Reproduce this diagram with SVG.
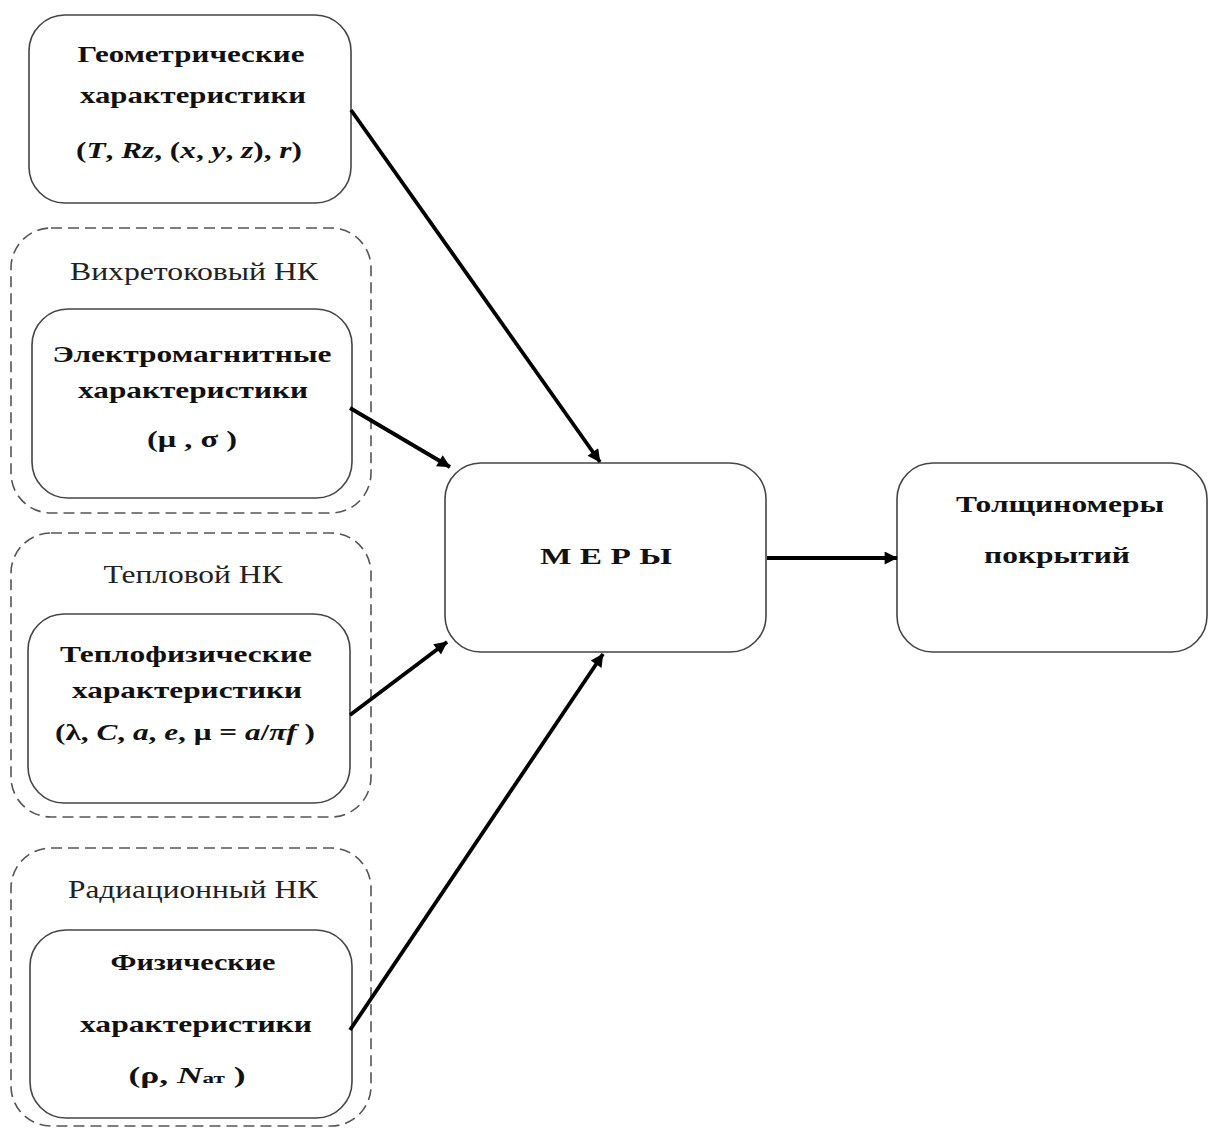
<svg xmlns="http://www.w3.org/2000/svg" width="1209" height="1130" viewBox="0 0 1209 1130">
<style>
.box{fill:#fff;stroke:#444;stroke-width:1.6}
.grp{fill:none;stroke:#555;stroke-width:1.6;stroke-dasharray:11,6}
.b{font-family:"Liberation Serif","Times New Roman",serif;font-weight:bold;font-size:23px;fill:#111;text-anchor:middle}
.l{font-family:"Liberation Serif","Times New Roman",serif;font-size:25px;fill:#222;text-anchor:middle}
.c{stroke:#000;stroke-width:3.8;fill:none;marker-end:url(#ah)}
</style>
<defs>
<marker id="ah" viewBox="0 0 10 10" refX="9.5" refY="5" markerWidth="15" markerHeight="13" markerUnits="userSpaceOnUse" orient="auto">
<path d="M0,0 L10,5 L0,10 Z" fill="#000"/>
</marker>
</defs>
<rect width="1209" height="1130" fill="#fff"/>

<g id="geom">
<rect class="box" x="29" y="15" width="322" height="188" rx="36"/>
<text class="b" x="191" y="62" textLength="227" lengthAdjust="spacingAndGlyphs">Геометрические</text>
<text class="b" x="193" y="103" textLength="226" lengthAdjust="spacingAndGlyphs">характеристики</text>
<text class="b" x="189" y="158" textLength="226" lengthAdjust="spacingAndGlyphs">(<tspan font-style="italic">T</tspan>, <tspan font-style="italic">Rz</tspan>,  (<tspan font-style="italic">x</tspan>, <tspan font-style="italic">y</tspan>, <tspan font-style="italic">z</tspan>), <tspan font-style="italic">r</tspan>)</text>
</g>

<g id="eddy">
<rect class="grp" x="11" y="228" width="360" height="285" rx="40"/>
<text class="l" x="194" y="280" textLength="248" lengthAdjust="spacingAndGlyphs">Вихретоковый НК</text>
<rect class="box" x="32" y="309" width="320" height="189" rx="36"/>
<text class="b" x="192" y="362" textLength="279" lengthAdjust="spacingAndGlyphs">Электромагнитные</text>
<text class="b" x="193" y="398" textLength="230" lengthAdjust="spacingAndGlyphs">характеристики</text>
<text class="b" x="192" y="447" textLength="90" lengthAdjust="spacingAndGlyphs">(μ , σ )</text>
</g>

<g id="thermal">
<rect class="grp" x="11" y="533" width="360" height="284" rx="40"/>
<text class="l" x="193" y="583" textLength="179" lengthAdjust="spacingAndGlyphs">Тепловой НК</text>
<rect class="box" x="28" y="614" width="322" height="189" rx="36"/>
<text class="b" x="186" y="662" textLength="252" lengthAdjust="spacingAndGlyphs">Теплофизические</text>
<text class="b" x="187" y="698" textLength="230" lengthAdjust="spacingAndGlyphs">характеристики</text>
<text class="b" x="185" y="740" textLength="260" lengthAdjust="spacingAndGlyphs">(λ, <tspan font-style="italic">C</tspan>, <tspan font-style="italic">a</tspan>, <tspan font-style="italic">e</tspan>, μ = <tspan font-style="italic">a</tspan>/<tspan font-style="italic">πf</tspan> )</text>
</g>

<g id="radiation">
<rect class="grp" x="11" y="848" width="360" height="278" rx="40"/>
<text class="l" x="193" y="898" textLength="250" lengthAdjust="spacingAndGlyphs">Радиационный НК</text>
<rect class="box" x="30" y="930" width="322" height="188" rx="36"/>
<text class="b" x="193" y="970" textLength="165" lengthAdjust="spacingAndGlyphs">Физические</text>
<text class="b" x="196" y="1032" textLength="232" lengthAdjust="spacingAndGlyphs">характеристики</text>
<text class="b" x="187" y="1083" textLength="117" lengthAdjust="spacingAndGlyphs">(ρ, <tspan font-style="italic">N</tspan><tspan font-size="15">ат</tspan> )</text>
</g>

<g id="mery">
<rect class="box" x="445" y="463" width="321" height="189" rx="36"/>
<text class="b" x="606" y="564" font-size="25" textLength="132" lengthAdjust="spacingAndGlyphs">М Е Р Ы</text>
</g>

<g id="tolsh">
<rect class="box" x="897" y="463" width="310" height="189" rx="36"/>
<text class="b" x="1060" y="512" textLength="208" lengthAdjust="spacingAndGlyphs">Толщиномеры</text>
<text class="b" x="1057" y="563" textLength="146" lengthAdjust="spacingAndGlyphs">покрытий</text>
</g>

<g id="connectors">
<line class="c" x1="351" y1="110" x2="600" y2="462"/>
<line class="c" x1="350" y1="408" x2="450" y2="467"/>
<line class="c" x1="350" y1="715" x2="447" y2="642"/>
<line class="c" x1="350" y1="1030" x2="603" y2="654"/>
<line class="c" x1="767" y1="558" x2="897" y2="558" stroke-width="4.5"/>
</g>
</svg>
